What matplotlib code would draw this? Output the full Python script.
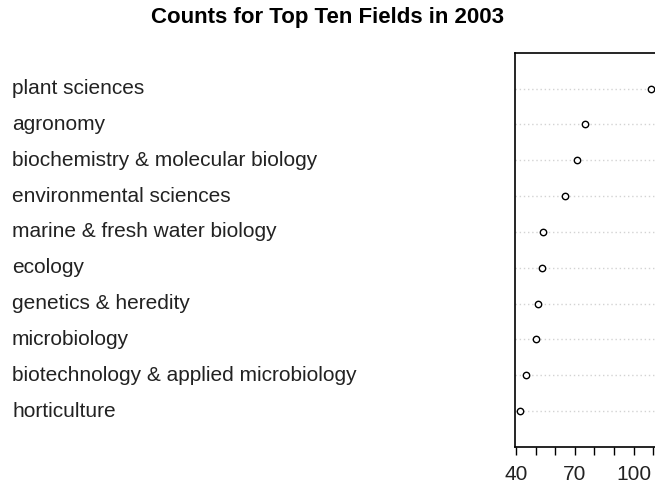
import matplotlib
matplotlib.use("Agg")
import matplotlib.pyplot as plt
import matplotlib.transforms as mtransforms

# data, top row first
fields = ["plant sciences", "agronomy", "biochemistry & molecular biology",
          "environmental sciences", "marine & fresh water biology", "ecology",
          "genetics & heredity", "microbiology",
          "biotechnology & applied microbiology", "horticulture"]
counts = [109, 75, 71, 65, 54, 53, 51, 50, 45, 42]
xticks = [40, 50, 60, 70, 80, 90, 100, 110]
xticklabels = ["40", "", "", "70", "", "", "100", ""]

plt.rcParams['font.family'] = ['Liberation Sans', 'DejaVu Sans']

fig = plt.figure(figsize=(6.55, 4.87), dpi=100)
ax = fig.add_axes([0.7858, 0.0821, 0.2165, 0.8097])

n = len(fields)
ypos = list(range(n, 0, -1))

# dotted guide lines across the box
for y in ypos:
    ax.axhline(y, color="lightgray", linestyle=(0, (1, 2)), linewidth=1, zorder=1)

ax.plot(counts, ypos, linestyle="none", marker="o", markersize=4.6,
        markerfacecolor="white", markeredgecolor="black", markeredgewidth=1, zorder=3)

lo, hi = min(counts), max(counts)
pad = (hi - lo) * 0.04
ax.set_xlim(lo - pad, hi + pad)
ax.set_ylim(0, n + 1)

ax.set_xticks(xticks)
ax.set_xticklabels(xticklabels, fontsize=15, color="#222222")
ax.tick_params(axis="x", direction="out", length=6, width=1, pad=7)
ax.set_yticks([])
for s in ax.spines.values():
    s.set_linewidth(1.2)

# row labels at the left of the figure
trans = mtransforms.blended_transform_factory(fig.transFigure, ax.transData)
for name, y in zip(fields, ypos):
    ax.text(12 / 655, y, name, transform=trans, ha="left", va="center",
            fontsize=15, color="#222222", clip_on=False)

fig.text(0.5, 1 - 17 / 487, "Counts for Top Ten Fields in 2003",
         ha="center", va="center", fontsize=16, fontweight="bold")

fig.savefig("out.png", dpi=100, facecolor="white")
